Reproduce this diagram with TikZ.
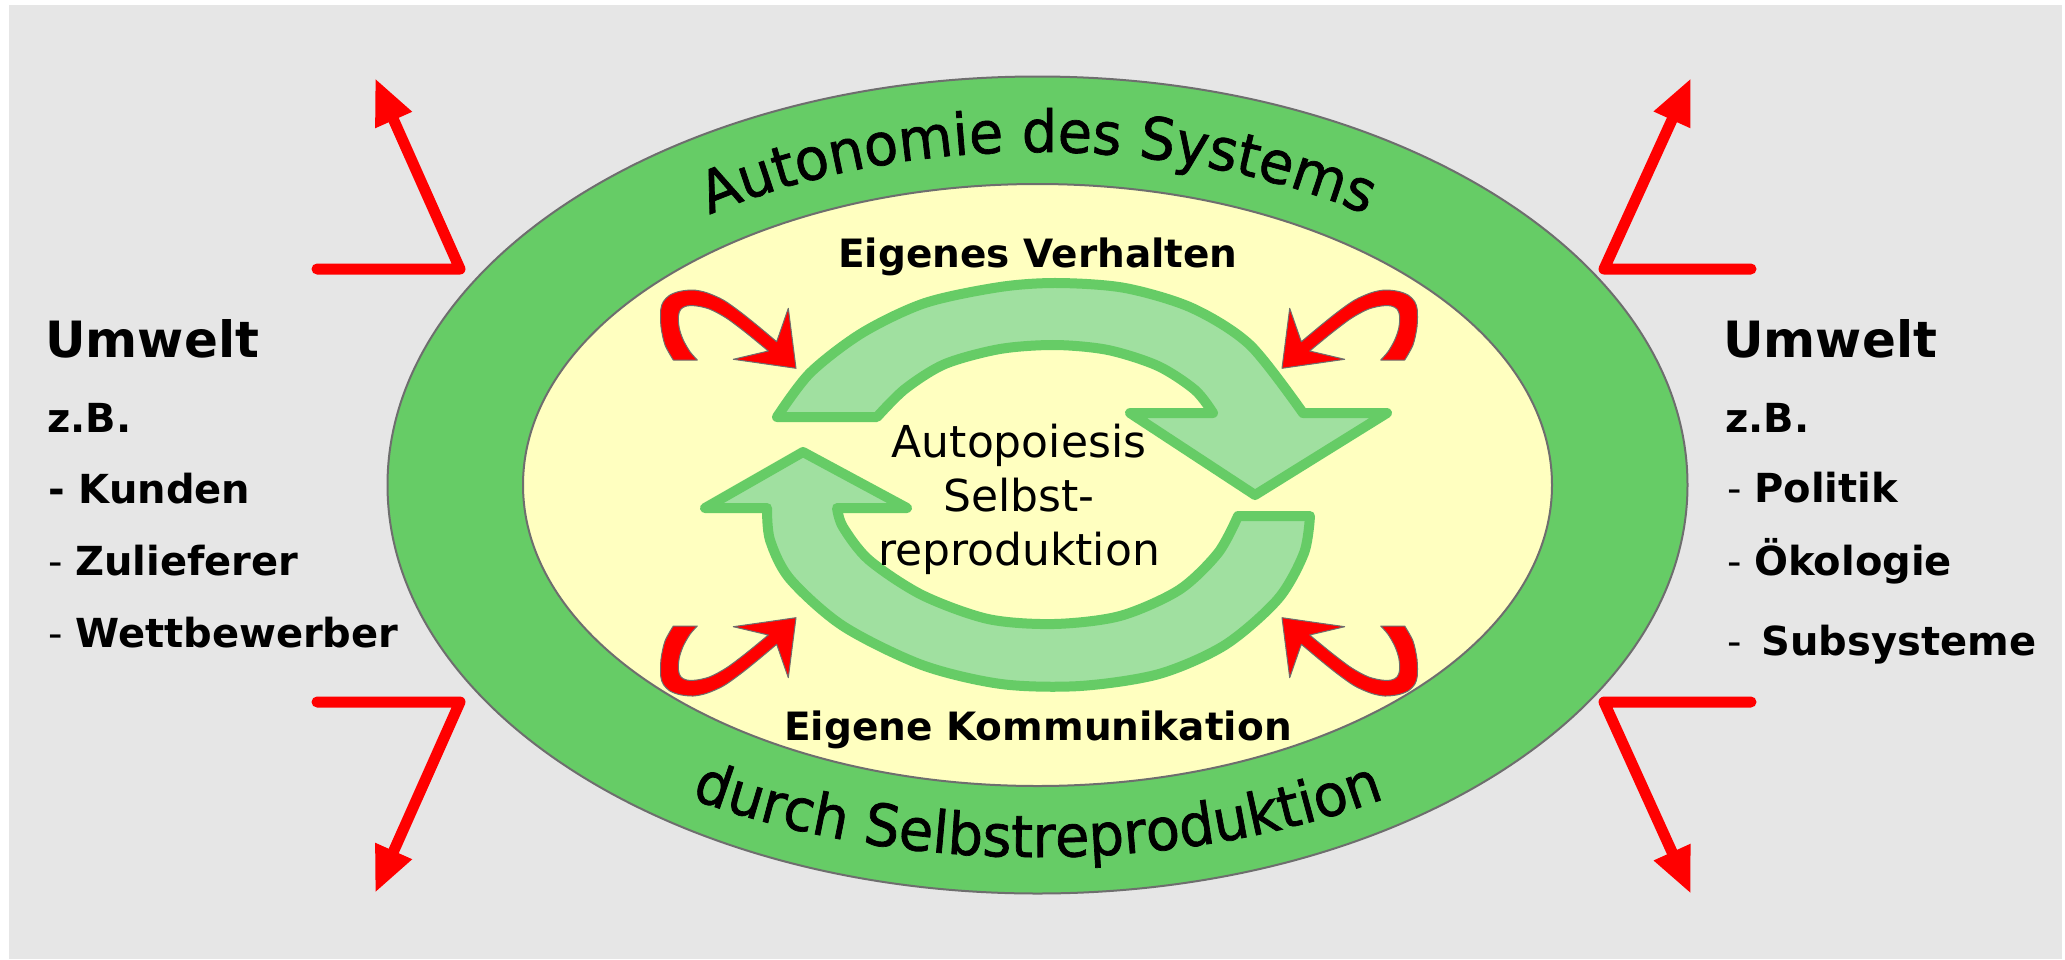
\documentclass[tikz,border=0pt]{standalone}
\usepackage{fontspec}
\setmainfont{DejaVu Sans}
\newfontfamily\curvefam[FakeStretch=0.96,FakeBold=1.2]{DejaVu Sans}
\usetikzlibrary{arrows.meta,decorations.text}
\definecolor{bggray}{RGB}{230,230,230}
\definecolor{ringgreen}{RGB}{102,204,102}
\definecolor{innery}{RGB}{255,255,192}
\definecolor{edgegray}{RGB}{110,110,110}
\definecolor{arrfill}{RGB}{160,224,160}
\definecolor{pured}{RGB}{255,0,0}
\newcommand\curvefont{\curvefam\fontsize{58}{66}\selectfont}
\newcommand\drawhook{%
\filldraw[hookstyle] plot[smooth] coordinates {(673.3,-360) (665,-345) (661,-326.7) (660.7,-310) (663.3,-301.7) (670,-295) (680,-291.3) (693.3,-290) (706.7,-292.7) (723.3,-300) (740,-311.7) (756.7,-325) (776.7,-341.7)} -- (788.3,-308.3) -- (796,-368.3) -- (733.3,-359.3) -- plot[smooth] coordinates {(768.3,-351) (746.7,-333.3) (726.7,-318.3) (710,-309.3) (696.7,-306) (686.7,-306) (680.7,-309.3) (678.3,-316.7) (679.3,-328.3) (683.3,-340) (690,-351.7) (697.3,-360)} -- cycle;}
\tikzset{
  hookstyle/.style={fill=pured, draw=edgegray, line width=1pt, line join=round},
  greenarrow/.style={fill=arrfill, draw=ringgreen, line width=10pt, line join=round},
  ringstyle/.style={draw=edgegray, line width=2pt},
  redL/.style={draw=pured, line width=11pt, line cap=round, line join=round, -{Triangle[length=46pt,width=37pt]}},
  listtxt/.style={anchor=base west, inner sep=0pt, font=\fontsize{40}{48}\selectfont},
  headtxt/.style={anchor=base west, inner sep=0pt, font=\fontsize{50}{58}\selectfont\bfseries},
  innertxt/.style={anchor=base, inner sep=0pt, font=\fontsize{39}{46}\selectfont\bfseries},
  autotxt/.style={anchor=base, inner sep=0pt, font=\fontsize{44}{54}\selectfont},
}
\begin{document}
\begin{tikzpicture}[x=1pt,y=1pt]
\useasboundingbox (0,0) rectangle (2065,-959);
\fill[white] (0,0) rectangle (2065,-959);
\fill[bggray] (9,-5) rectangle (2062,-959);

% rings
\filldraw[ringstyle, fill=ringgreen] (1037.5,-485) ellipse [x radius=650, y radius=408.5];
\filldraw[ringstyle, fill=innery] (1037.5,-485) ellipse [x radius=514.5, y radius=301];

% curved texts
\path[decorate, decoration={text along path, text={|\curvefont|Autonomie des Systems}, text align=center}]
  (528.7,-344.3) arc[start angle=155, end angle=25, x radius=562, y radius=333];
\path[decorate, decoration={text along path, text={|\curvefont|durch Selbstreproduktion}, text align=center}]
  (510.4,-698.5) arc[start angle=215, end angle=325, x radius=644, y radius=372];

% green circular arrows
\filldraw[greenarrow] plot[smooth] coordinates {(777,-417) (810,-373) (862,-333) (925,-303) (1000,-287) (1058,-283) (1125,-288) (1192,-308) (1250,-345) (1303,-413)}
  -- (1387,-413) -- (1255,-495) -- (1130,-413) -- (1213,-413)
  -- plot[smooth] coordinates {(1213,-413) (1195,-390) (1158,-366) (1108,-350) (1055,-345) (1000,-349) (945,-364) (905,-389) (877,-417)} -- cycle;
\filldraw[greenarrow] (1238,-516) -- plot[smooth] coordinates {(1310,-516) (1304,-553) (1278,-599) (1225,-645) (1159,-674) (1080,-686) (1001,-684) (922,-665) (843,-626) (790,-579) (770,-540) (767,-508)}
  -- (705,-508) -- (803,-452) -- (907,-508) -- (837,-508)
  -- plot[smooth] coordinates {(837,-508) (843,-527) (869,-560) (922,-595) (988,-619) (1054,-624) (1120,-616) (1179,-590) (1218,-553) (1238,-516)} -- cycle;

% red hooks
\drawhook
\begin{scope}[xshift=2078pt, xscale=-1]\drawhook\end{scope}
\begin{scope}[yshift=-986pt, yscale=-1]\drawhook\end{scope}
\begin{scope}[xshift=2078pt, yshift=-986pt, xscale=-1, yscale=-1]\drawhook\end{scope}

% inner texts
\node[innertxt] (ev) at (1038,-267) {Eigenes Verhalten};
\node[innertxt] (ek) at (1038,-740) {Eigene Kommunikation};
\node[autotxt] (ap1) at (1019,-457) {Autopoiesis};
\node[autotxt] (ap2) at (1019,-511) {Selbst-};
\node[autotxt] (ap3) at (1019,-565) {reproduktion};

% left environment
\node[headtxt] (uwl) at (45,-357) {Umwelt};
\node[listtxt] (zbl) at (47,-432) {\textbf{z.B.}};
\node[listtxt] (kun) at (48,-503) {\textbf{- Kunden}};
\node[listtxt] (zul) at (48,-575) {- \textbf{Zulieferer}};
\node[listtxt] (wet) at (48,-647) {- \textbf{Wettbewerber}};

% right environment
\node[headtxt] (uwr) at (1723,-357) {Umwelt};
\node[listtxt] (zbr) at (1725,-432) {\textbf{z.B.}};
\node[listtxt] (pol) at (1727,-502) {- \textbf{Politik}};
\node[listtxt] (oek) at (1727,-575) {- \textbf{Ökologie}};
\node[listtxt] (sub) at (1727,-655) {-\hspace{20pt}\textbf{Subsysteme}};

% red L arrows
\coordinate (tlA) at (317,-269); \coordinate (tlB) at (460,-269); \coordinate (tlC) at (375,-78);
\coordinate (blA) at (317,-702); \coordinate (blB) at (460,-702); \coordinate (blC) at (375,-893);
\coordinate (trA) at (1751,-269); \coordinate (trB) at (1604,-269); \coordinate (trC) at (1691,-78);
\coordinate (brA) at (1751,-702); \coordinate (brB) at (1604,-702); \coordinate (brC) at (1691,-894);
\draw[redL] (tlA) -- (tlB) -- (tlC);
\draw[redL] (blA) -- (blB) -- (blC);
\draw[redL] (trA) -- (trB) -- (trC);
\draw[redL] (brA) -- (brB) -- (brC);
\end{tikzpicture}
\end{document}
